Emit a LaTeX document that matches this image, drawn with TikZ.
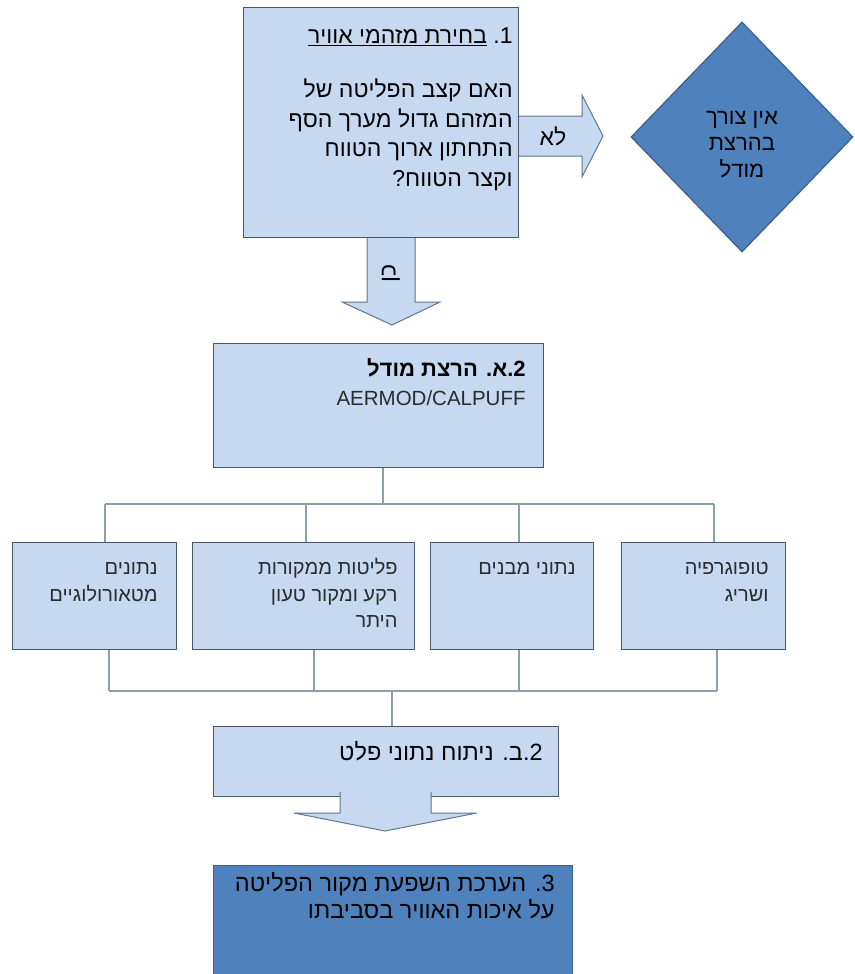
\documentclass[tikz,border=0pt]{standalone}
\usepackage{fontspec}
\usepackage{xcolor}
\usetikzlibrary{shapes.geometric,calc}
\setmainfont{Liberation Sans}
\newfontfamily\heb[Script=Hebrew]{Liberation Sans}
\TeXXeTstate=1
\definecolor{paleblue}{HTML}{C6D9F1}
\definecolor{boxedge}{HTML}{485868}
\definecolor{deepblue}{HTML}{4F81BD}
\definecolor{deepedge}{HTML}{3B5F8C}
\definecolor{treeline}{HTML}{8AA1A9}
\definecolor{arrowedge}{HTML}{5F7890}
\definecolor{thintext}{HTML}{2B2B2B}
\newcommand{\rl}[1]{\beginR #1\endR}

\tikzset{
  lightbox/.style={draw=boxedge, fill=paleblue, line width=1.2pt, inner sep=0pt, anchor=north west},
  darkbox/.style={draw=deepedge, fill=deepblue, line width=1.2pt, inner sep=0pt, anchor=north west},
  tree/.style={draw=treeline, line width=1.1pt},
  blockarrow/.style={fill=paleblue, draw=arrowedge, line width=1pt, line join=miter},
  bigheb/.style={font=\heb\fontsize{23}{29.7}\selectfont},
  smallheb/.style={font=\heb\fontsize{20}{26.5}\selectfont, text=thintext},
}

\begin{document}
\begin{tikzpicture}[x=1pt, y=-1pt]
  \useasboundingbox (0,0) rectangle (854,974);
  \fill[white] (0,0) rectangle (854,974);

  % step 1 and its two ways out
  \node[lightbox, bigheb, minimum width=275pt, minimum height=230pt] (pick) at (243,7)
    {\parbox[c][230pt][t]{263pt}{\raggedleft
      \rule{0pt}{36pt}\rl{1.\ \underline{\rl{בחירת מזהמי אוויר}}}\\[24pt]
      \rl{האם קצב הפליטה של}\\
      \rl{המזהם גדול מערך הסף}\\
      \rl{התחתון ארוך הטווח}\\
      \rl{וקצר הטווח?}}};

  \node[diamond, draw=deepedge, fill=deepblue, line width=1.2pt, minimum width=222pt, minimum height=230pt,
        inner sep=0pt, align=center, font=\heb\fontsize{22}{26.5}\selectfont] (skip) at (742,137)
    {\rule{0pt}{28pt}\rl{אין צורך}\\ \rl{בהרצת}\\ \rl{מודל}};

  \draw[blockarrow] (pick.east |- 0,116) -- (582,116) -- (582,95) -- (603,136) -- (582,177) -- (582,156) -- (pick.east |- 0,156);
  \draw[blockarrow] (pick.south -| 367,0) -- (367,302) -- (342,302) -- (392,325) -- (440,302) -- (415,302) -- (pick.south -| 415,0);
  \node[bigheb] (nolabel) at (553,136) {\rl{לא}};
  \node[bigheb, rotate=90] (yeslabel) at (391,273) {\rl{כן}};

  % step 2a and its inputs
  \node[lightbox, minimum width=330pt, minimum height=124pt] (model) at (213,343)
    {\parbox[c][124pt][t]{294pt}{\raggedleft\fontsize{22}{29}\selectfont
      \rule{0pt}{33pt}{\heb\bfseries\rl{2.א. הרצת מודל}}\\
      {\color{thintext}\fontsize{20.5}{29}\selectfont AERMOD/CALPUFF}}};

  \node[lightbox, smallheb, minimum width=164pt, minimum height=107pt] (met) at (12,542)
    {\parbox[c][107pt][t]{126pt}{\raggedleft
      \rule{0pt}{32pt}\rl{נתונים}\\ \rl{מטאורולוגיים}}};
  \node[lightbox, smallheb, minimum width=222pt, minimum height=107pt] (emis) at (192,542)
    {\parbox[c][107pt][t]{188pt}{\raggedleft
      \rule{0pt}{32pt}\rl{פליטות ממקורות}\\ \rl{רקע ומקור טעון}\\ \rl{היתר}}};
  \node[lightbox, smallheb, minimum width=163pt, minimum height=107pt] (bld) at (430,542)
    {\parbox[c][107pt][t]{127pt}{\raggedleft
      \rule{0pt}{32pt}\rl{נתוני מבנים}}};
  \node[lightbox, smallheb, minimum width=164pt, minimum height=107pt] (topo) at (621,542)
    {\parbox[c][107pt][t]{130pt}{\raggedleft
      \rule{0pt}{32pt}\rl{טופוגרפיה}\\ \rl{ושריג}}};

  \coordinate (split) at (383,504);
  \coordinate (join) at (392,691);
  \draw[tree] (model.south -| split) -- (split);
  \draw[tree] (105,504) -- (714,504);
  \draw[tree] (109,691) -- (717,691);
  \foreach \nm/\tx/\bx in {met/105/109, emis/306/314, bld/519/519, topo/714/717} {
    \draw[tree] (\nm.north -| \tx,0) -- (\tx,504);
    \draw[tree] (\nm.south -| \bx,0) -- (\bx,691);
  }

  % step 2b and step 3
  \node[lightbox, minimum width=345pt, minimum height=70pt] (post) at (213,726)
    {\parbox[c][70pt][t]{313pt}{\raggedleft\heb\fontsize{23.5}{29}\selectfont
      \rule{0pt}{34pt}\rl{2.ב. ניתוח נתוני פלט}}};
  \draw[tree] (join) -- (post.north -| join);

  \draw[blockarrow] ($(post.south -| 340,0)+(0,-5)$) -- (340,813) -- (294,813) -- (385,831) -- (477,813) -- (431,813) -- ($(post.south -| 431,0)+(0,-5)$);

  \node[darkbox, minimum width=359pt, minimum height=130pt] (impact) at (213,865)
    {\parbox[c][130pt][t]{323pt}{\raggedleft\heb\fontsize{23.5}{27}\selectfont
      \rule{0pt}{26pt}\rl{3. הערכת השפעת מקור הפליטה}\\
      \rl{על איכות האוויר בסביבתו}}};
\end{tikzpicture}
\end{document}
